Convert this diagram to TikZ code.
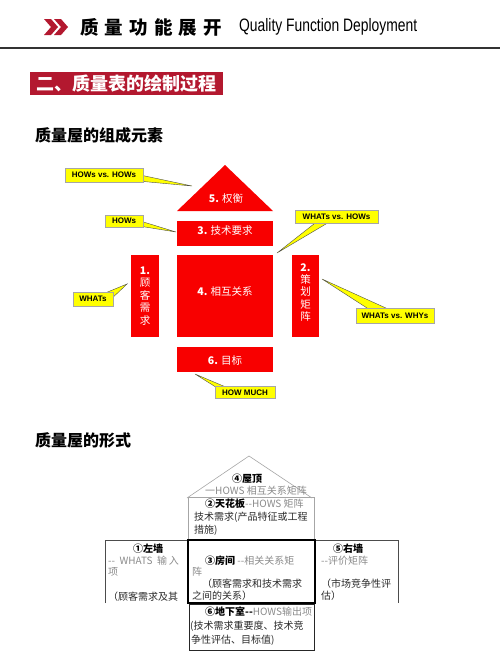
\documentclass[tikz,border=0pt]{standalone}
\usepackage{fontspec}
\usepackage{graphicx}
\setmainfont{Liberation Sans}
\newfontfamily\cjk{Noto Sans CJK SC}
\usetikzlibrary{calc}
\pgfdeclarelayer{bg}
\pgfsetlayers{bg,main}
\definecolor{hdred}{HTML}{B3182F}
\definecolor{bright}{HTML}{F80000}
\definecolor{callyel}{HTML}{FFFF00}
\definecolor{txtgray}{HTML}{8A8A8A}
\definecolor{txtdark}{HTML}{2A2A2A}
\tikzset{
  redbox/.style={fill=bright, draw=none, inner sep=0},
  redlbl/.style={inner sep=0, text=white, font=\cjk\fontsize{10.5}{12.4}\selectfont, align=center},
  callbox/.style={fill=callyel, draw=gray!70, line width=0.4pt, inner sep=0, font=\bfseries\fontsize{8}{8}\selectfont},
  callwedge/.style={fill=callyel, draw=gray!60!black, line width=0.4pt},
  hline/.style={draw=gray!70, line width=0.6pt},
  ttx/.style={inner sep=0, anchor=west, text=txtdark, font=\cjk\fontsize{10}{11}\selectfont},
  ttc/.style={inner sep=0, text=txtdark, font=\cjk\fontsize{10}{11}\selectfont},
}
\begin{document}
\begin{tikzpicture}[x=1pt,y=-1pt]
\useasboundingbox (0,0) rectangle (500,657);
% header
\fill[hdred] (44,19) -- (51,19) -- (58,27) -- (51,35) -- (44,35) -- (51,27) -- cycle;
\fill[hdred] (54,19) -- (61,19) -- (68,27) -- (61,35) -- (54,35) -- (61,27) -- cycle;
\node[anchor=west, inner sep=0, font=\cjk\bfseries\fontsize{18.5}{18.5}\selectfont] (title) at (80,27)
  {质\hspace{6.2pt}量\hspace{6.2pt}功\hspace{6.2pt}能\hspace{6.2pt}展\hspace{6.2pt}开};
\node[anchor=west, inner sep=0] (eng) at (239,27)
  {\scalebox{0.77}[1]{\fontsize{18}{18}\selectfont Quality Function Deployment}};
\draw[line width=2pt, black!80] (0,48) -- (500,48);
\node[fill=hdred, anchor=north west, minimum width=193pt, minimum height=23pt, inner sep=0,
  text=white, font=\cjk\bfseries\fontsize{18}{18}\selectfont] (banner) at (30,72) {二、质量表的绘制过程};
\node[anchor=west, inner sep=0, font=\cjk\bfseries\fontsize{16}{16}\selectfont] (sec1) at (35,135) {质量屋的组成元素};
\node[anchor=west, inner sep=0, font=\cjk\bfseries\fontsize{16}{16}\selectfont] (sec2) at (35,440) {质量屋的形式};

% diagram 1
\fill[bright] (225,165) -- (273,211) -- (177,211) -- cycle;
\node[redlbl] (l5) at (226,199) {\textbf{5.} 权衡};
\node[redbox, anchor=north west, minimum width=96pt, minimum height=25pt] (r3) at (177,221) {};
\node[redlbl] (l3) at (225,231) {\textbf{3.} 技术要求};
\node[redbox, anchor=north west, minimum width=96pt, minimum height=82pt] (r4) at (177,255) {};
\node[redlbl] (l4) at (225,291) {\textbf{4.} 相互关系};
\node[redbox, anchor=north west, minimum width=28pt, minimum height=82pt] (r1) at (131,255) {};
\node[redlbl] (l1) at (145,296) {\textbf{1.}\\顾\\客\\需\\求};
\node[redbox, anchor=north west, minimum width=27pt, minimum height=82pt] (r2) at (292,255) {};
\node[redlbl] (l2) at (305.5,292.5) {\textbf{2.}\\策\\划\\矩\\阵};
\node[redbox, anchor=north west, minimum width=96pt, minimum height=25pt] (r6) at (177,347) {};
\node[redlbl] (l6) at (225,360) {\textbf{6.} 目标};

% callouts
\node[callbox, minimum width=78pt, minimum height=14pt] (c1) at (104,175) {HOWs vs. HOWs};
\node[callbox, minimum width=38pt, minimum height=12pt] (c2) at (124,221) {HOWs};
\node[callbox, minimum width=83pt, minimum height=13pt] (c3) at (336.5,217) {WHATs vs. HOWs};
\node[callbox, minimum width=78pt, minimum height=15pt] (c4) at (395,315.5) {WHATs vs. WHYs};
\node[callbox, minimum width=40pt, minimum height=14pt] (c5) at (93,299) {WHATs};
\node[callbox, minimum width=60pt, minimum height=12pt] (c6) at (245,392.5) {HOW MUCH};
\coordinate (p1) at (192,186);
\coordinate (p2) at (176,232);
\coordinate (p3) at (277,253);
\coordinate (p4) at (322,279);
\coordinate (p5) at (127,284);
\coordinate (p6) at (195,374);
\begin{pgfonlayer}{bg}
\path[callwedge] ($(c1.east)+(-3,0)$) -- (p1) -- ($(c1.south east)+(-3,-1)$) -- cycle;
\path[callwedge] ($(c2.east)+(-3,0)$) -- (p2) -- ($(c2.south east)+(-3,-1)$) -- cycle;
\path[callwedge] ($(c3.south west)+(22,-2)$) -- (p3) -- ($(c3.south west)+(35,-2)$) -- cycle;
\path[callwedge] ($(c4.north west)+(14,2)$) -- (p4) -- ($(c4.north west)+(34,2)$) -- cycle;
\path[callwedge] ($(c5.north east)+(-10,2)$) -- (p5) -- ($(c5.east)+(-2,0)$) -- cycle;
\path[callwedge] ($(c6.north west)+(3,2)$) -- (p6) -- ($(c6.north west)+(14,2)$) -- cycle;
\end{pgfonlayer}

% diagram 2
\draw[hline] (187,498) -- (249,456) -- (312,498);
\draw[hline] (188,497) rectangle (314,540);
\draw[hline, draw=black!70] (105,603) -- (105,540) -- (398,540) -- (398,603);
\draw[black, line width=1.2pt] (188,540) rectangle (315,603);
\draw[black!85, line width=0.8pt] (189,604) rectangle (314,650);

\node[ttc, text=black, font=\cjk\bfseries\fontsize{10}{11}\selectfont] (rfa) at (247,479) {④屋顶};
\node[ttc, text=txtgray] (rfb) at (256,491) {一HOWS 相互关系矩阵};

\node[ttx] (cla) at (205,504) {\textcolor{black}{\bfseries ②天花板}\textcolor{txtgray}{--HOWS 矩阵}};
\node[ttx] (clb) at (194,517) {技术需求(产品特征或工程};
\node[ttx] (clc) at (194,530) {措施)};

\node[ttc, text=black, font=\cjk\bfseries\fontsize{10}{11}\selectfont] (lwa) at (148,549) {①左墙};
\node[ttx, text=txtgray] (lwb) at (108,561) {--\ \ WHATS\ \ 输\,入};
\node[ttx, text=txtgray] (lwc) at (108,572) {项};
\node[ttx] (lwd) at (108,597) {（顾客需求及其};

\node[ttx] (rma) at (205,561) {\textcolor{black}{\bfseries ③房间} \textcolor{txtgray}{--相关关系矩}};
\node[ttx, text=txtgray] (rmb) at (192,572) {阵};
\node[ttx] (rmc) at (202,584) {（顾客需求和技术需求};
\node[ttx] (rmd) at (192,596) {之间的关系）};

\node[ttc, text=black, font=\cjk\bfseries\fontsize{10}{11}\selectfont] (rwa) at (348,549) {⑤右墙};
\node[ttx, text=txtgray] (rwb) at (321,561) {--评价矩阵};
\node[ttx] (rwc) at (321,584) {（市场竞争性评};
\node[ttx] (rwd) at (321,596) {估）};

\node[ttx] (bsa) at (205,612) {\textcolor{black}{\bfseries ⑥地下室--}\textcolor{txtgray}{HOWS输出项}};
\node[ttx] (bsb) at (190,626) {(技术需求重要度、技术竞};
\node[ttx] (bsc) at (191,640) {争性评估、目标值)};
\end{tikzpicture}
\end{document}
